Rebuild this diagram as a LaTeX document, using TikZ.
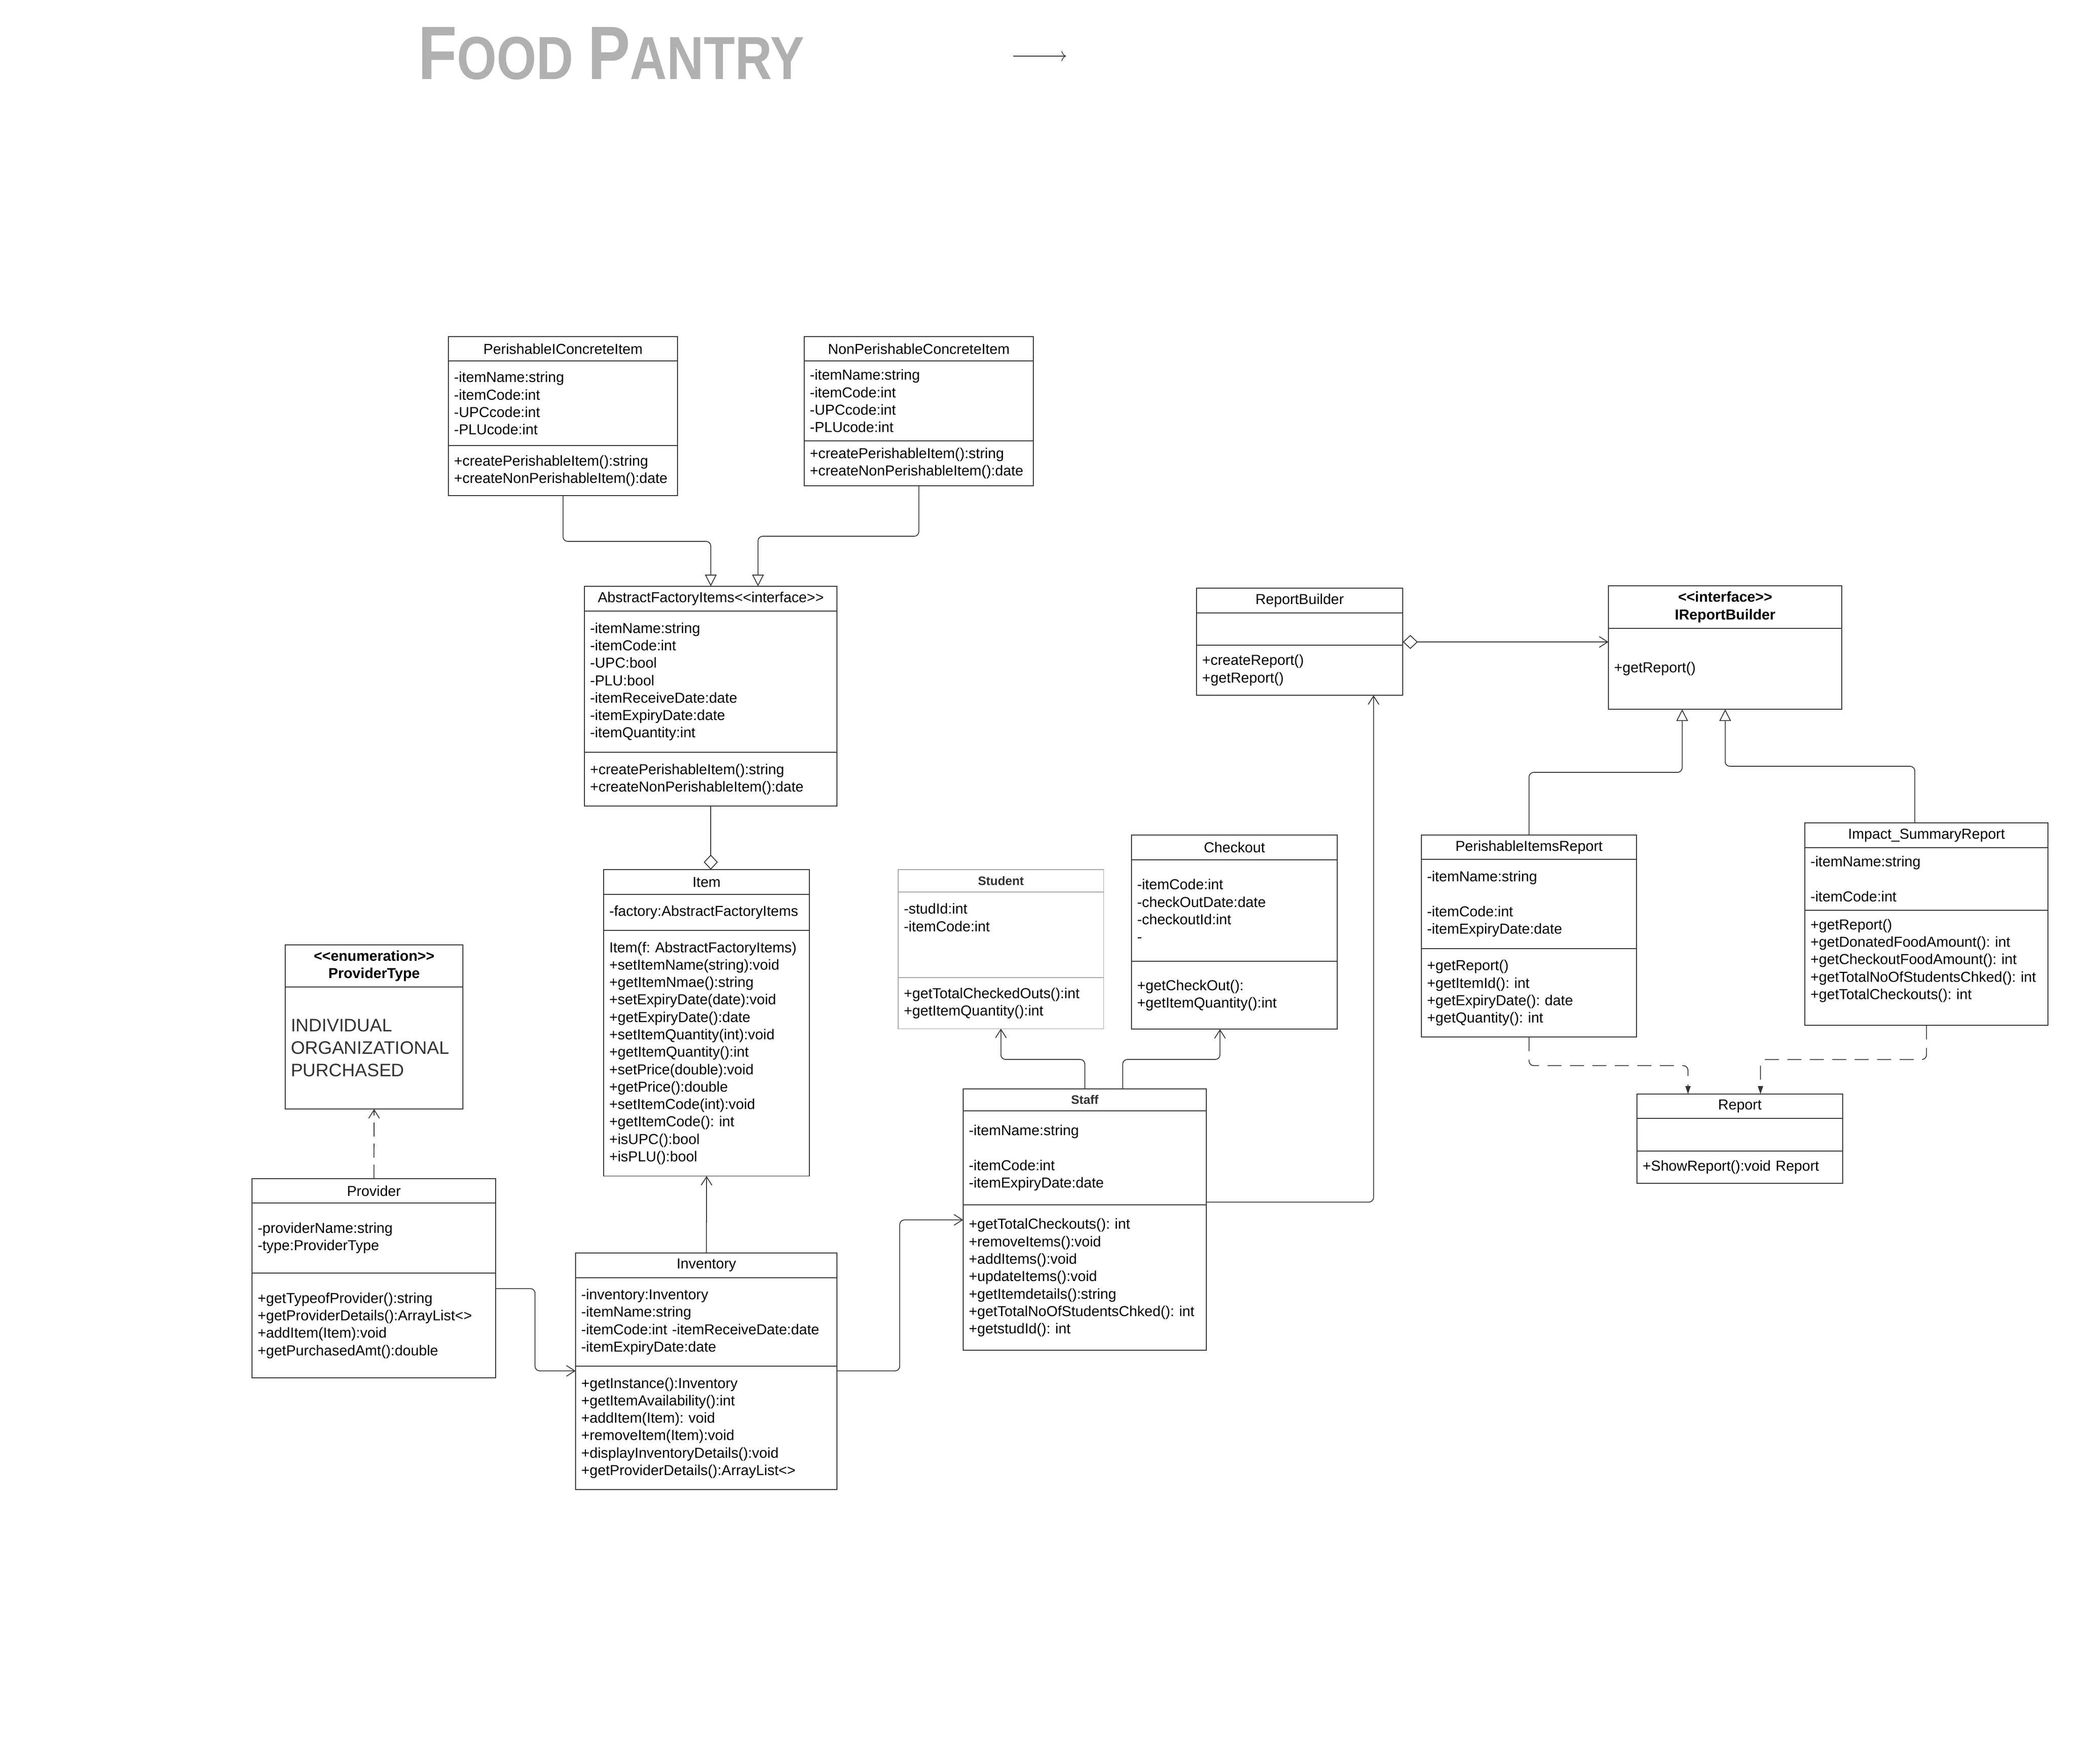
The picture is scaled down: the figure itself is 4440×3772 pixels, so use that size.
\documentclass[tikz,border=0pt]{standalone}
\usepackage{fontspec}
\setmainfont{Liberation Sans}[Ligatures=TeXOff]
\usepackage{tikz}
\usetikzlibrary{positioning}
\usetikzlibrary{calc}
\usetikzlibrary{arrows.meta}

\definecolor{linegray}{HTML}{333333}
\definecolor{lightline}{HTML}{A6A6A6}
\definecolor{titlegray}{HTML}{B0B0B0}

\begin{document}
\frenchspacing
\begin{tikzpicture}[
    x=0.01cm, y=-0.01cm,   % one unit is one pixel of the sketch, y grows downwards
    font=\fontsize{8.8}{10.6}\selectfont,
    ]
% -------------------------------------------------
\tikzset{
  cls/.style={draw=linegray, line width=0.5pt, outer sep=0pt, inner xsep=0.12cm, inner ysep=0pt, text width=#1},
  clshead/.style={cls=#1, align=center},
  clsbody/.style={cls=#1, align=left},
  boldhead/.style={font=\fontsize{7.5}{9}\selectfont\bfseries, text=linegray},
  line/.style={draw=linegray, line width=0.5pt, rounded corners=0.1cm},
  assoc/.style={line, -{Straight Barb[length=0.18cm, width=0.23cm]}},
  generalize/.style={line, -{Triangle[open, length=0.25cm, width=0.25cm]}},
  aggr/.style={line, -{Diamond[open, length=0.32cm, width=0.30cm]}},
  aggrnav/.style={line, {Diamond[open, length=0.32cm, width=0.30cm]}-{Straight Barb[length=0.18cm, width=0.23cm]}},
  usedep/.style={assoc, dash pattern=on 0.3cm off 0.15cm},
  realize/.style={line, dash pattern=on 0.3cm off 0.18cm, -{Triangle[length=0.17cm, width=0.11cm]}}
}
% -------------------------------------------------
\useasboundingbox (0,0) rectangle (4440,3772);

% Title
\node[anchor=base west, inner sep=0pt, text=titlegray] (title) at (894,169)
  {\scalebox{0.84}[1]{\bfseries\fontsize{46}{46}\selectfont F\fontsize{37}{37}\selectfont OOD \fontsize{46}{46}\selectfont P\fontsize{37}{37}\selectfont ANTRY}};
\coordinate (arrowtail) at (2167,120);
\coordinate (arrowtip) at (2280,120);
\draw[draw=linegray, line width=0.4pt, -{To[length=0.1cm, width=0.22cm]}] (arrowtail) -- (arrowtip);

% Placing the nodes

% concrete factories
\node[clshead=4.66cm, minimum height=0.52cm, anchor=north west] (pcihead) at (959,720) {PerishableIConcreteItem};
\node[clsbody=4.66cm, minimum height=1.81cm, below=0pt of pcihead] (pciattr) {-itemName:string\\-itemCode:int\\-UPCcode:int\\-PLUcode:int};
\node[clsbody=4.66cm, minimum height=1.07cm, below=0pt of pciattr] (pciops) {+createPerishableItem():string\\+createNonPerishableItem():date};

\node[clshead=4.66cm, minimum height=0.52cm, anchor=north west] (npcihead) at (1720,720) {NonPerishableConcreteItem};
\node[clsbody=4.66cm, minimum height=1.71cm, below=0pt of npcihead] (npciattr) {-itemName:string\\-itemCode:int\\-UPCcode:int\\-PLUcode:int};
\node[clsbody=4.66cm, minimum height=0.96cm, below=0pt of npciattr] (npciops) {+createPerishableItem():string\\+createNonPerishableItem():date};

% abstract factory and item
\node[clshead=5.16cm, minimum height=0.53cm, anchor=north west] (afihead) at (1250,1254) {AbstractFactoryItems<<interface>>};
\node[clsbody=5.16cm, minimum height=3.02cm, below=0pt of afihead] (afiattr) {-itemName:string\\-itemCode:int\\-UPC:bool\\-PLU:bool\\-itemReceiveDate:date\\-itemExpiryDate:date\\-itemQuantity:int};
\node[clsbody=5.16cm, minimum height=1.15cm, below=0pt of afiattr] (afiops) {+createPerishableItem():string\\+createNonPerishableItem():date};

\node[clshead=4.16cm, minimum height=0.53cm, anchor=north west] (itemhead) at (1291,1860) {Item};
\node[clsbody=4.16cm, minimum height=0.77cm, below=0pt of itemhead] (itemattr) {-factory:AbstractFactoryItems};
\node[clsbody=4.16cm, minimum height=5.25cm, below=0pt of itemattr] (itemops) {Item(f: AbstractFactoryItems)\\+setItemName(string):void\\+getItemNmae():string\\+setExpiryDate(date):void\\+getExpiryDate():date\\+setItemQuantity(int):void\\+getItemQuantity():int\\+setPrice(double):void\\+getPrice():double\\+setItemCode(int):void\\+getItemCode(): int\\+isUPC():bool\\+isPLU():bool};

% provider side
\node[clshead=3.56cm, minimum height=0.90cm, anchor=north west] (pthead) at (610,2021) {\textbf{<<enumeration>>}\\\textbf{ProviderType}};
\node[clsbody=3.56cm, minimum height=2.61cm, below=0pt of pthead, font=\fontsize{11}{13.6}\selectfont, text=linegray] (ptbody) {INDIVIDUAL\\ORGANIZATIONAL\\PURCHASED};

\node[clshead=4.97cm, minimum height=0.52cm, anchor=north west] (provhead) at (539,2521) {Provider};
\node[clsbody=4.97cm, minimum height=1.50cm, below=0pt of provhead] (provattr) {-providerName:string\\-type:ProviderType};
\node[clsbody=4.97cm, minimum height=2.24cm, below=0pt of provattr] (provops) {+getTypeofProvider():string\\+getProviderDetails():ArrayList<>\\+addItem(Item):void\\+getPurchasedAmt():double};

\node[clshead=5.35cm, minimum height=0.53cm, anchor=north west] (invhead) at (1231,2680) {Inventory};
\node[clsbody=5.35cm, minimum height=1.89cm, below=0pt of invhead] (invattr) {-inventory:Inventory\\-itemName:string\\-itemCode:int -itemReceiveDate:date\\-itemExpiryDate:date};
\node[clsbody=5.35cm, minimum height=2.64cm, below=0pt of invattr] (invops) {+getInstance():Inventory\\+getItemAvailability():int\\+addItem(Item): void\\+removeItem(Item):void\\+displayInventoryDetails():void\\+getProviderDetails():ArrayList<>};

% checkout side
\node[clshead=4.15cm, minimum height=0.48cm, anchor=north west, draw=lightline, line width=0.4pt, boldhead] (stuhead) at (1921,1860) {Student};
\node[clsbody=4.15cm, minimum height=1.83cm, below=0pt of stuhead, draw=lightline, line width=0.4pt] (stuattr) {-studId:int\\-itemCode:int\\ ~\\ ~};
\node[clsbody=4.15cm, minimum height=1.09cm, below=0pt of stuattr, draw=lightline, line width=0.4pt] (stuops) {+getTotalCheckedOuts():int\\+getItemQuantity():int};

\node[clshead=4.16cm, minimum height=0.53cm, anchor=north west] (chkhead) at (2420,1786) {Checkout};
\node[clsbody=4.16cm, minimum height=2.17cm, below=0pt of chkhead] (chkattr) {-itemCode:int\\-checkOutDate:date\\-checkoutId:int\\-};
\node[clsbody=4.16cm, minimum height=1.45cm, below=0pt of chkattr] (chkops) {+getCheckOut():\\+getItemQuantity():int};

\node[clshead=4.96cm, minimum height=0.47cm, anchor=north west, boldhead] (stfhead) at (2060,2329) {Staff};
\node[clsbody=4.96cm, minimum height=2.01cm, below=0pt of stfhead] (stfattr) {-itemName:string\\ ~\\-itemCode:int\\-itemExpiryDate:date};
\node[clsbody=4.96cm, minimum height=3.11cm, below=0pt of stfattr] (stfops) {+getTotalCheckouts(): int\\+removeItems():void\\+addItems():void\\+updateItems():void\\+getItemdetails():string\\+getTotalNoOfStudentsChked(): int\\+getstudId(): int};

% report side
\node[clshead=4.17cm, minimum height=0.53cm, anchor=north west] (rbhead) at (2559,1258) {ReportBuilder};
\node[clsbody=4.17cm, minimum height=0.69cm, below=0pt of rbhead] (rbattr) {};
\node[clsbody=4.17cm, minimum height=1.07cm, below=0pt of rbattr] (rbops) {+createReport()\\+getReport()};

\node[clshead=4.75cm, minimum height=0.91cm, anchor=north west] (irbhead) at (3440,1253) {\textbf{<<interface>>}\\\textbf{IReportBuilder}};
\node[clsbody=4.75cm, minimum height=1.73cm, below=0pt of irbhead] (irbbody) {+getReport()};

\node[clshead=4.36cm, minimum height=0.52cm, anchor=north west] (pirhead) at (3040,1786) {PerishableItemsReport};
\node[clsbody=4.36cm, minimum height=1.91cm, below=0pt of pirhead] (pirattr) {-itemName:string\\ ~\\-itemCode:int\\-itemExpiryDate:date};
\node[clsbody=4.36cm, minimum height=1.89cm, below=0pt of pirattr] (pirops) {+getReport()\\+getItemId(): int\\+getExpiryDate(): date\\+getQuantity(): int};

\node[clshead=4.96cm, minimum height=0.53cm, anchor=north west] (isrhead) at (3860,1760) {Impact\_SummaryReport};
\node[clsbody=4.96cm, minimum height=1.34cm, below=0pt of isrhead] (israttr) {-itemName:string\\ ~\\-itemCode:int};
\node[clsbody=4.96cm, minimum height=2.46cm, below=0pt of israttr] (isrops) {+getReport()\\+getDonatedFoodAmount(): int\\+getCheckoutFoodAmount(): int\\+getTotalNoOfStudentsChked(): int\\+getTotalCheckouts(): int\\ ~};

\node[clshead=4.16cm, minimum height=0.52cm, anchor=north west] (rephead) at (3501,2340) {Report};
\node[clsbody=4.16cm, minimum height=0.70cm, below=0pt of rephead] (repattr) {};
\node[clsbody=4.16cm, minimum height=0.69cm, below=0pt of repattr] (repops) {+ShowReport():void Report};

% -------------------------------------------------
% Connectors

\path [generalize] (pciops.south) |- ($(afihead.north)+(0,-96)$) -- (afihead.north);
\path [generalize] (npciops.south) |- ($(afihead.north)+(101,-107)$) -- ($(afihead.north)+(101,0)$);
\path [aggr] (afiops.south) -- (afiops.south |- itemhead.north);
\path [assoc] (invhead.north) -- (itemops.south);
\path [usedep] (provhead.north) -- (ptbody.south);
\path [assoc] ($(provops.north east)+(0,33)$) -- ++(84,0) |- ($(invops.north west)+(0,10)$);
\path [assoc] ($(invops.north east)+(0,10)$) -- ++(134,0) |- ($(stfops.north west)+(0,32)$);
\path [assoc] (stfhead.north) -- ++(0,-63) -| (stuops.south);
\path [assoc] ($(stfhead.north)+(81,0)$) -- ++(0,-63) -| ($(chkops.south)+(-31,0)$);
\path [assoc] ($(stfattr.south east)+(0,-6)$) -| ($(rbops.south)+(158,0)$);

\coordinate (rbagg) at ($(rbattr.south east)+(0,-7)$);
\path [aggrnav] (rbagg) -- (rbagg -| irbbody.west);
\path [generalize] (pirhead.north) -- ++(0,-134) -| ($(irbbody.south)+(-92,0)$);
\path [generalize] ($(isrhead.north)+(-25,0)$) -- ++(0,-121) -| (irbbody.south);
\path [realize] (pirops.south) -- ++(0,61) -| ($(rephead.north)+(-111,0)$);
\path [realize] (isrops.south) -- ++(0,73) -| ($(rephead.north)+(44,0)$);

\end{tikzpicture}
\end{document}
